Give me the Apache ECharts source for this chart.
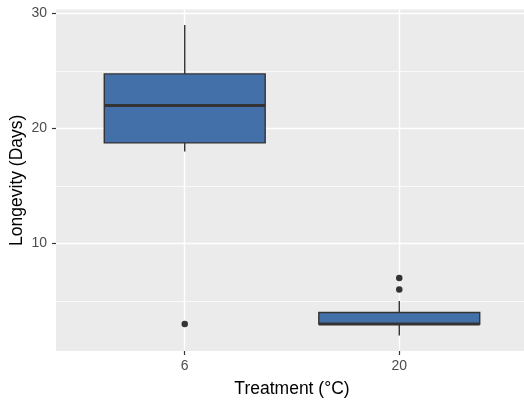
<!DOCTYPE html>
<html>
<head>
<meta charset="UTF-8">
<title>Longevity by treatment</title>
<script src="https://cdn.jsdelivr.net/npm/echarts@6/dist/echarts.min.js"></script>
<style>
  html, body { margin: 0; padding: 0; background: #fff; }
  #main { width: 524px; height: 403px; }
</style>
</head>
<body>
<div id="main"></div>
<script type="text/javascript">
    // data
    var categories = ['6', '20'];
    var lowWhisker = [18, 2];
    var q1 = [18.75, 3];
    var median = [22, 3];
    var q3 = [24.75, 4];
    var highWhisker = [29, 5];
    // outliers: [category index, value]
    var outliers = [[0, 3], [1, 6], [1, 7]];
    var yMajorTicks = [10, 20, 30];
    var yMinorTicks = [5, 15, 25];

    var boxWidth = 0.75;
    var fontFamily = '"Liberation Sans", Arial, sans-serif';

    var boxData = categories.map(function (c, i) {
        return [i + 1, lowWhisker[i], q1[i], median[i], q3[i], highWhisker[i]];
    });
    var outlierData = outliers.map(function (o) {
        return [o[0] + 1, o[1]];
    });
    var xPositions = categories.map(function (c, i) { return i + 1; });

    function renderBox(params, api) {
        var x = api.value(0);
        var lo = api.coord([x, api.value(1)]);
        var b = api.coord([x, api.value(2)]);
        var md = api.coord([x, api.value(3)]);
        var t = api.coord([x, api.value(4)]);
        var hi = api.coord([x, api.value(5)]);
        var halfW = api.size([boxWidth, 0])[0] / 2;
        var stroke = '#333333';
        return {
            type: 'group',
            children: [
                {type: 'line', shape: {x1: lo[0], y1: lo[1], x2: b[0], y2: b[1]},
                    style: {stroke: stroke, lineWidth: 1.4}},
                {type: 'line', shape: {x1: t[0], y1: t[1], x2: hi[0], y2: hi[1]},
                    style: {stroke: stroke, lineWidth: 1.4}},
                {type: 'rect', shape: {x: t[0] - halfW, y: t[1], width: 2 * halfW, height: b[1] - t[1]},
                    style: {fill: '#4470AA', stroke: stroke, lineWidth: 1.4}},
                {type: 'line', shape: {x1: md[0] - halfW, y1: md[1], x2: md[0] + halfW, y2: md[1]},
                    style: {stroke: stroke, lineWidth: 2.8}}
            ]
        };
    }

    var myChart = echarts.init(document.getElementById('main'));
    var option = {
        backgroundColor: '#ffffff',
        animation: false,
        grid: {
            left: 56,
            width: 472,
            top: 9.5,
            bottom: 52,
            outerBoundsMode: 'none',
            show: true,
            backgroundColor: '#EBEBEB',
            borderWidth: 0
        },
        xAxis: {
            type: 'value',
            min: 0.4,
            max: 2.6,
            name: 'Treatment (°C)',
            nameLocation: 'middle',
            nameGap: 29,
            nameMoveOverlap: false,
            nameTextStyle: {color: '#000', fontSize: 17.5, fontFamily: fontFamily},
            axisLine: {show: false},
            axisTick: {show: true, customValues: xPositions, length: 4, lineStyle: {color: '#333', width: 1.2}},
            axisLabel: {
                customValues: xPositions,
                margin: 8,
                color: '#4D4D4D',
                fontSize: 14,
                fontFamily: fontFamily,
                formatter: function (v) { return categories[Math.round(v) - 1]; }
            },
            splitLine: {show: true, lineStyle: {color: '#ffffff', width: 1.4}}
        },
        yAxis: [{
            type: 'value',
            min: 0.65,
            max: 30.35,
            name: 'Longevity (Days)',
            nameLocation: 'middle',
            nameGap: 30,
            nameMoveOverlap: false,
            nameTextStyle: {color: '#000', fontSize: 17.5, fontFamily: fontFamily},
            axisLine: {show: false},
            axisTick: {show: true, customValues: yMajorTicks, length: 4, lineStyle: {color: '#333', width: 1.2}},
            axisLabel: {
                customValues: yMajorTicks,
                margin: 9,
                color: '#4D4D4D',
                fontSize: 14,
                fontFamily: fontFamily
            },
            splitLine: {show: true, lineStyle: {color: '#ffffff', width: 1.4}}
        }, {
            type: 'value',
            min: 0.65,
            max: 30.35,
            position: 'left',
            axisLine: {show: false},
            axisTick: {show: false, customValues: yMinorTicks},
            axisLabel: {show: false},
            splitLine: {show: true, lineStyle: {color: '#ffffff', width: 0.7}}
        }],
        series: [
            {
                name: 'box',
                type: 'custom',
                renderItem: renderBox,
                encode: {x: 0, y: [1, 2, 3, 4, 5]},
                data: boxData
            },
            {
                name: 'outliers',
                type: 'scatter',
                symbolSize: 6.5,
                itemStyle: {color: '#333333', opacity: 1},
                data: outlierData
            }
        ]
    };
    myChart.setOption(option);
</script>
</body>
</html>
